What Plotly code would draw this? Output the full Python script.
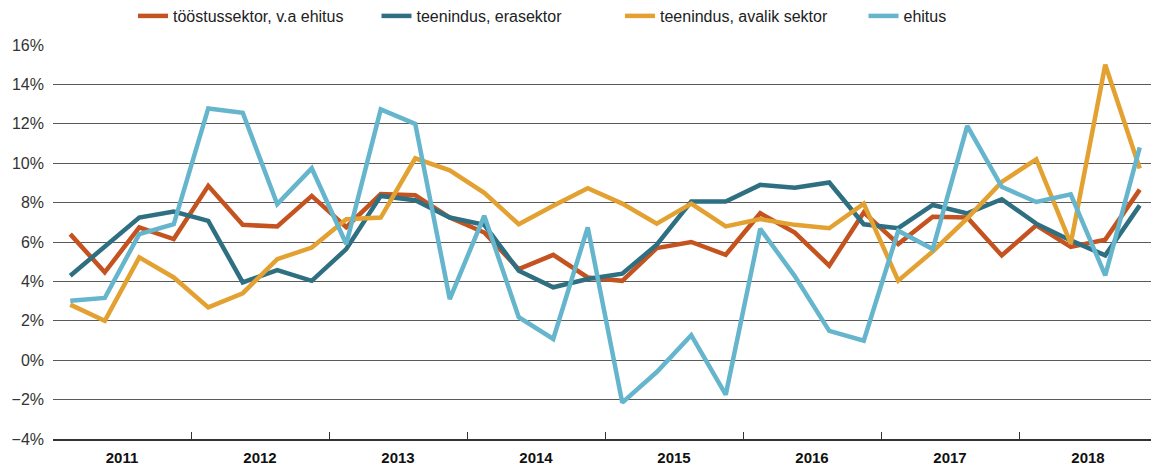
import plotly.graph_objects as go

years = ["2011", "2012", "2013", "2014", "2015", "2016", "2017", "2018"]
quarters = list(range(32))

toostus = [6.4, 4.46, 6.74, 6.15, 8.85, 6.87, 6.79, 8.34, 6.75, 8.43, 8.38, 7.24,
           6.48, 4.62, 5.35, 4.2, 4.03, 5.69, 6.0, 5.35, 7.46, 6.48, 4.8, 7.5,
           5.9, 7.28, 7.25, 5.32, 6.85, 5.75, 6.12, 8.66]
erasektor = [4.29, 5.75, 7.24, 7.55, 7.07, 3.95, 4.57, 4.03, 5.64, 8.34, 8.12, 7.24,
             6.87, 4.54, 3.7, 4.12, 4.39, 5.86, 8.05, 8.05, 8.9, 8.76, 9.02, 6.9,
             6.7, 7.88, 7.45, 8.17, 6.93, 6.08, 5.32, 7.86]
avalik = [2.82, 2.0, 5.22, 4.2, 2.68, 3.4, 5.13, 5.72, 7.16, 7.24, 10.25, 9.64,
          8.5, 6.9, 7.84, 8.73, 7.95, 6.93, 7.95, 6.79, 7.16, 6.87, 6.7, 7.95,
          4.04, 5.52, 7.2, 9.05, 10.2, 5.92, 15.0, 9.73]
ehitus = [3.02, 3.16, 6.4, 6.9, 12.78, 12.56, 7.92, 9.74, 5.9, 12.73, 12.0, 3.1,
          7.33, 2.18, 1.08, 6.74, -2.15, -0.6, 1.27, -1.75, 6.67, 4.27, 1.49, 0.99,
          6.57, 5.64, 11.9, 8.8, 8.03, 8.42, 4.3, 10.8]

series = [
    ("tööstussektor, v.a ehitus", toostus, "#C4531F"),
    ("teenindus, erasektor", erasektor, "#2E6F82"),
    ("teenindus, avalik sektor", avalik, "#E3A132"),
    ("ehitus", ehitus, "#65B5CC"),
]

fig = go.Figure()
for name, vals, col in series:
    fig.add_trace(go.Scatter(x=quarters, y=vals, name=name, mode="lines",
                             line=dict(color=col, width=4.5)))

# invisible trace to activate the second x axis for year separator ticks
fig.add_trace(go.Scatter(x=[-0.5, 31.5], y=[None, None], xaxis="x2",
                         showlegend=False, hoverinfo="skip"))

year_centers = [4 * i + 1.5 for i in range(len(years))]
year_bounds = [4 * i - 0.5 for i in range(len(years) + 1)]

FONT = "Liberation Sans, Arial, sans-serif"
W, H = 1151, 460

fig.update_layout(
    width=W, height=H,
    margin=dict(l=45, r=2, t=37, b=29, autoexpand=False),
    paper_bgcolor="white", plot_bgcolor="white",
    font=dict(family=FONT, color="#222"),
    showlegend=True,
    legend=dict(orientation="h", xref="container", yref="container",
                x=125 / W, xanchor="left", y=1 - 8 / H, yanchor="middle",
                font=dict(size=16, color="#222"), entrywidth=198.5, entrywidthmode="pixels",
                bgcolor="rgba(0,0,0,0)"),
    xaxis=dict(range=[-0.5, 31.5], tickvals=year_centers, ticktext=years,
               ticks="", showgrid=False, zeroline=False, automargin=False,
               showline=True, linecolor="#333", linewidth=1.5, ticklabelstandoff=4,
               tickfont=dict(size=15, color="#111", family=FONT, weight="bold")),
    xaxis2=dict(range=[-0.5, 31.5], overlaying="x", anchor="y", side="bottom",
                tickvals=year_bounds, ticks="inside", ticklen=7, tickwidth=1.2,
                tickcolor="#333", showticklabels=False, showgrid=False, zeroline=False),
    yaxis=dict(range=[-4, 16], dtick=2, ticksuffix="%", showgrid=True, automargin=False,
               gridcolor="#5a5a5a", gridwidth=1, zeroline=False, showline=False,
               tickfont=dict(size=16, color="#333"), ticks="", ticklabelstandoff=8),
)

fig.write_html("out.html")
